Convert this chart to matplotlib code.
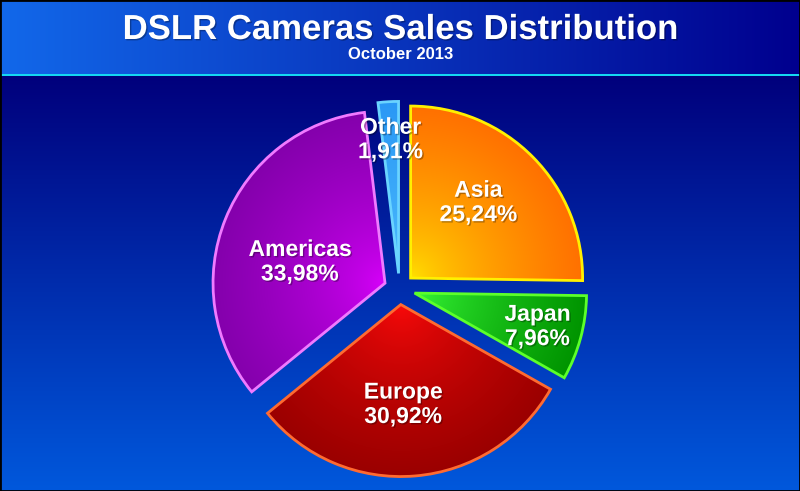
import numpy as np
import matplotlib
matplotlib.use("Agg")
import matplotlib.pyplot as plt
import matplotlib.patheffects as pe
from matplotlib.colors import to_rgb
from matplotlib.patches import Rectangle

# ---------------- data ----------------
categories = ["Asia", "Japan", "Europe", "Americas", "Other"]
shares = [25.24, 7.96, 30.92, 33.98, 1.91]
title = "DSLR Cameras Sales Distribution"
subtitle = "October 2013"

# ---------------- style ----------------
inner_colors = ["#FFE600", "#3CFF3C", "#FF0A0A", "#DC00FF", "#55C4FF"]
outer_colors = ["#FF7000", "#009400", "#9A0000", "#8400AC", "#2A98F5"]
edge_colors = ["#FFF000", "#5CFF2A", "#FF6A30", "#F07AFF", "#6AD4FF"]
label_dist = [0.59, 0.74, 0.58, 0.51, 0.78]
label_turn = [-3.6, 0.0, 3.5, -7.8, 0.0]  # degrees, clockwise positive

W, H = 800, 491
fig = plt.figure(figsize=(W / 100, H / 100), dpi=100)
ax = fig.add_axes([0, 0, 1, 1])

font = ["Liberation Sans", "DejaVu Sans"]

# background: main area vertical gradient
header_h = 73.5
line_h = 2.4
top_c = np.array(to_rgb("#00007C"))
bot_c = np.array(to_rgb("#0058DC"))
t = np.linspace(0, 1, 256)[:, None]
grad = (bot_c * (1 - t) + top_c * t)[:, None, :].repeat(2, axis=1)
ax.imshow(grad, extent=[0, W, 0, H - header_h - line_h], origin="lower",
          aspect="auto", zorder=0, interpolation="bilinear")

# header: horizontal gradient
hl = np.array(to_rgb("#1268EA"))
hr = np.array(to_rgb("#00008E"))
s = np.linspace(0, 1, 256)[None, :, None]
hgrad = (hl * (1 - s) + hr * s).repeat(2, axis=0)
ax.imshow(hgrad, extent=[0, W, H - header_h, H], origin="lower",
          aspect="auto", zorder=0, interpolation="bilinear")
ax.add_patch(Rectangle((0, H - header_h - line_h), W, line_h,
                       facecolor="#14D8F2", edgecolor="none", zorder=1))

# pie (explode given in data units = pixels)
R = 172
center = (399.5, H - 289)
explode_px = 15.6
wedges, _ = ax.pie(shares, radius=R, center=center,
                   explode=[explode_px] * len(shares),
                   startangle=90, counterclock=False,
                   wedgeprops=dict(linewidth=2.0, facecolor="none"))

for i, w in enumerate(wedges):
    w.set_edgecolor(edge_colors[i])
    w.set_zorder(4)
    cx, cy = w.center
    n = 300
    xs = np.linspace(cx - R, cx + R, n)
    ys = np.linspace(cy - R, cy + R, n)
    X, Y = np.meshgrid(xs, ys)
    d = np.clip(np.hypot(X - cx, Y - cy) / R, 0, 1) ** 0.65
    ci = np.array(to_rgb(inner_colors[i]))
    co = np.array(to_rgb(outer_colors[i]))
    img = ci * (1 - d[..., None]) + co * d[..., None]
    im = ax.imshow(img, extent=[cx - R, cx + R, cy - R, cy + R], origin="lower",
                   aspect="auto", zorder=3, interpolation="bilinear")
    im.set_clip_path(w)

    mid = 0.5 * (w.theta1 + w.theta2) - label_turn[i]
    rr = R * label_dist[i]
    lx = cx + rr * np.cos(np.radians(mid))
    ly = cy + rr * np.sin(np.radians(mid))
    txt = f"{categories[i]}\n{shares[i]:.2f}%".replace(".", ",")
    ax.text(lx, ly, txt, ha="center", va="center", multialignment="center",
            color="white", fontsize=16.5, fontweight="bold", family=font,
            linespacing=1.08, zorder=6,
            path_effects=[pe.withSimplePatchShadow(offset=(1, -1),
                                                   shadow_rgbFace="black",
                                                   alpha=0.3)])

ax.set_xlim(0, W)
ax.set_ylim(0, H)
ax.set_aspect("auto")
ax.axis("off")

# titles
ax.text(400.5, H - 39, title, ha="center", va="baseline", color="white",
        fontsize=25, fontweight="bold", family=font, zorder=6,
        path_effects=[pe.withSimplePatchShadow(offset=(1, -1),
                                               shadow_rgbFace="black", alpha=0.3)])
ax.text(400.5, H - 59.3, subtitle, ha="center", va="baseline", color="white",
        fontsize=12, fontweight="bold", family=font, zorder=6)

# outer black border
ax.add_patch(Rectangle((0, 0), W, H, facecolor="none", edgecolor="black",
                       linewidth=2.0, zorder=10, clip_on=False))

fig.savefig("out.png", dpi=100)
